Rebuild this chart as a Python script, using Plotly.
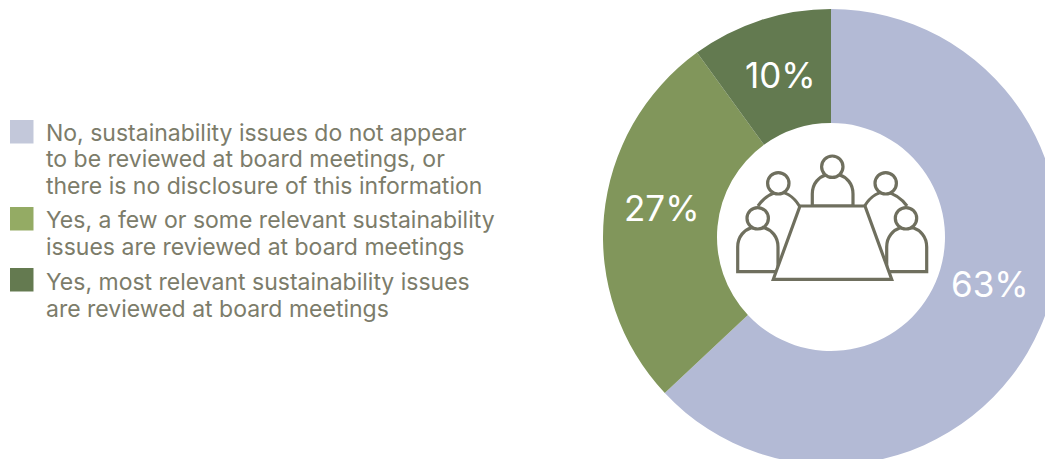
import plotly.graph_objects as go

categories = ["No, sustainability issues do not appear to be reviewed at board meetings, or there is no disclosure of this information",
              "Yes, a few or some relevant sustainability issues are reviewed at board meetings",
              "Yes, most relevant sustainability issues are reviewed at board meetings"]
values = [63, 27, 10]
pie_colors = ["#b3bad5", "#81965b", "#637a50"]
legend_colors = ["#c3c8da", "#94ab64", "#647a50"]
legend_lines = [
    ["No, sustainability issues do not appear", "to be reviewed at board meetings, or", "there is no disclosure of this information"],
    ["Yes, a few or some relevant sustainability", "issues are reviewed at board meetings"],
    ["Yes, most relevant sustainability issues", "are reviewed at board meetings"],
]
legend_line_y = [[133, 159, 186], [220, 247], [282, 309]]
legend_box_top = [120, 207, 268]
label_pos = [(990, 284), (662, 208), (780, 75)]

W, H = 1100, 480
CX, CY, R = 831, 237, 228
FONT = "Inter"
INK = "#6f6f5e"
TXT = "#7c7c6a"

def px(x):
    return x / W
def py(y):
    return 1 - y / H

fig = go.Figure(go.Pie(
    labels=categories, values=values, hole=0.5, sort=False, direction="clockwise", rotation=0,
    marker=dict(colors=pie_colors, line=dict(width=0)), textinfo="none", hoverinfo="label+percent",
    showlegend=False,
    domain=dict(x=[px(CX - R), px(CX + R)], y=[py(CY + R), py(CY - R)]),
))

shapes, annots = [], []
line = dict(color=INK, width=3.2)

def head(x, y, r=10.7):
    shapes.append(dict(type="circle", xref="paper", yref="paper", x0=px(x - r), x1=px(x + r), y0=py(y + r), y1=py(y - r),
                       line=line, fillcolor="white", layer="above"))

def pt(p):
    return f"{px(p[0]):.5f},{py(p[1]):.5f}"

def add_path(s):
    shapes.append(dict(type="path", xref="paper", yref="paper", path=s, line=line, fillcolor="white", layer="above"))

def body(xl, xr, top, bottom):
    mid = (xl + xr) / 2
    add_path(f"M{pt((xl, bottom))} L{pt((xl, top + 19))} "
             f"C{pt((xl, top + 8))} {pt((xl + 7, top + 2))} {pt((mid - 7, top))} "
             f"L{pt((mid + 7, top))} "
             f"C{pt((xr - 7, top + 2))} {pt((xr, top + 8))} {pt((xr, top + 19))} "
             f"L{pt((xr, bottom))} Z")

def back_body(xo, xi, xc, top, yo, yi):
    # open shoulder running from the outer side down to the table edge
    add_path(f"M{pt((xo, yo))} C{pt((xo + (xc - xo) * 0.35, top + 4))} {pt((xc - 6 * (1 if xi > xo else -1), top + 1))} {pt((xc, top))} "
             f"C{pt((xc + (xi - xc) * 0.45, top))} {pt((xi - (xi - xc) * 0.2, yi - 9))} {pt((xi, yi))}")

# back people
back_body(758, 801, 778.3, 192, 206, 209)
head(778.3, 183.3)
back_body(907, 863, 885.7, 192, 206, 209)
head(885.7, 183.3)
body(812.3, 853, 175, 206)
head(832.3, 166.7)
# front people
body(737.7, 778, 228, 271.7)
head(757.7, 218.3)
body(886.7, 926.7, 228, 271.7)
head(906, 218.3)
# table
add_path(f"M{pt((800, 206))} L{pt((865, 206))} L{pt((891.7, 279.3))} L{pt((773.3, 279.3))} Z")

for v, (x, y) in zip(values, label_pos):
    annots.append(dict(x=px(x), y=py(y), xref="paper", yref="paper", text=f"{v}%", showarrow=False,
                       xanchor="center", yanchor="middle", font=dict(family=FONT, size=35, color="white")))

for col, top, lines, ys in zip(legend_colors, legend_box_top, legend_lines, legend_line_y):
    shapes.append(dict(type="rect", xref="paper", yref="paper", x0=px(10), x1=px(33.5), y0=py(top + 23.5), y1=py(top),
                       fillcolor=col, line=dict(width=0)))
    for t, y in zip(lines, ys):
        annots.append(dict(x=px(44), y=py(y), xref="paper", yref="paper", text=t, showarrow=False,
                           xanchor="left", yanchor="middle", font=dict(family=FONT, size=23, color=TXT)))

fig.update_layout(width=W, height=H, autosize=False, margin=dict(l=0, r=0, t=0, b=0),
                  paper_bgcolor="white", plot_bgcolor="white", shapes=shapes, annotations=annots)
fig.write_html("out.html", config=dict(displayModeBar=False, responsive=False),
               post_script="document.body.style.margin='0';document.body.style.overflow='hidden';document.documentElement.style.overflow='hidden';")
